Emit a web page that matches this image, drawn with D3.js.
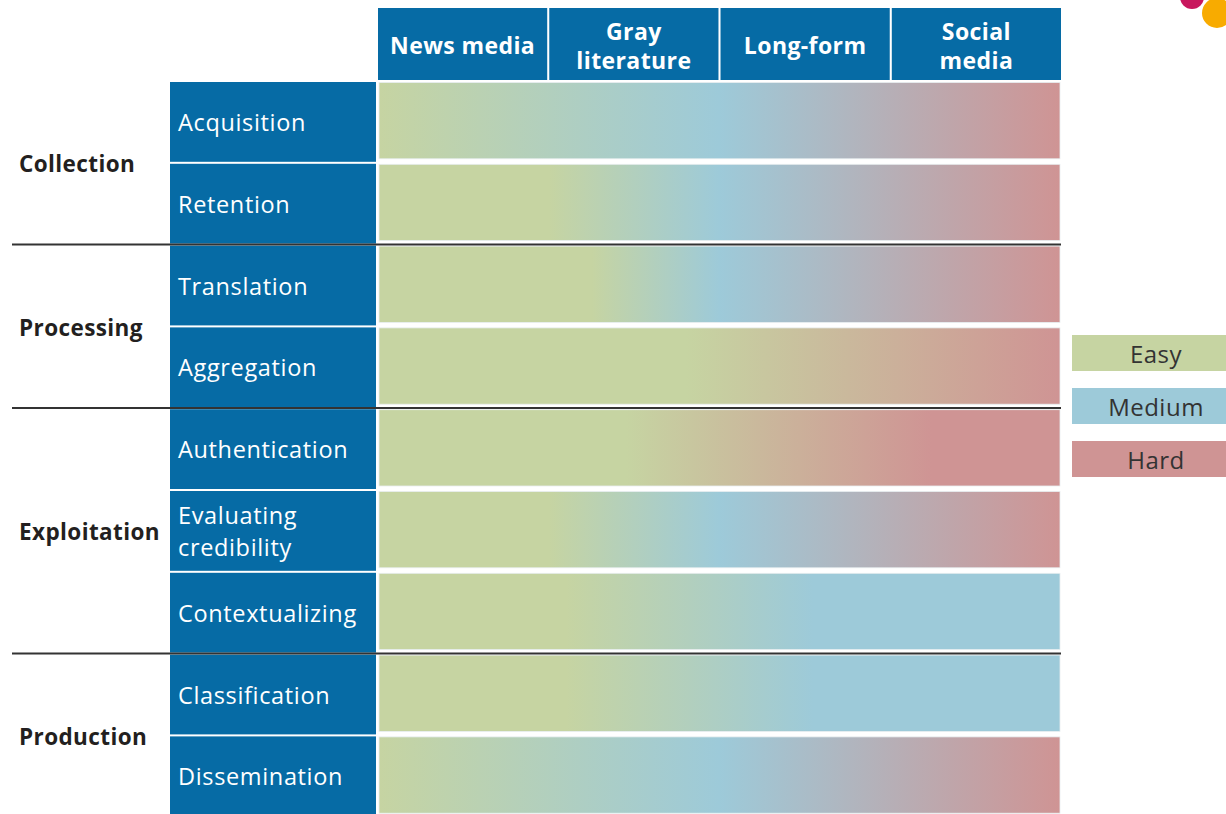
<!DOCTYPE html>
<html>
<head>
<meta charset="utf-8">
<script src="https://cdn.jsdelivr.net/npm/d3@7"></script>
<style>
  html, body { margin: 0; padding: 0; background: #fff; overflow: hidden; }
  svg { display: block; }
  text { font-family: "Open Sans", "Noto Sans", sans-serif; }
</style>
</head>
<body>
<svg id="chart" width="1226" height="814"></svg>
<script>
// ---- data ----
const columns = ["News media", "Gray literature", "Long-form", "Social media"];
const columnLines = [["News media"], ["Gray", "literature"], ["Long-form"], ["Social", "media"]];
const groups = ["Collection", "Processing", "Exploitation", "Production"];
const groupSizes = [2, 2, 3, 2];
const tasks = ["Acquisition", "Retention", "Translation", "Aggregation", "Authentication",
               "Evaluating credibility", "Contextualizing", "Classification", "Dissemination"];
const taskLines = [["Acquisition"], ["Retention"], ["Translation"], ["Aggregation"], ["Authentication"],
                   ["Evaluating", "credibility"], ["Contextualizing"], ["Classification"], ["Dissemination"]];
const levels = ["Easy", "Medium", "Hard"];
const levelColors = ["#c6d4a2", "#9dcad9", "#cf9494"];
// difficulty along the source axis: [position in column units (0..4), level]
const difficultyStops = [
  [[0, "Easy"], [2, "Medium"], [4, "Hard"]],
  [[0, "Easy"], [1, "Easy"], [2, "Medium"], [4, "Hard"]],
  [[0, "Easy"], [1.25, "Easy"], [2, "Medium"], [4, "Hard"]],
  [[0, "Easy"], [1.8, "Easy"], [4, "Hard"]],
  [[0, "Easy"], [1.45, "Easy"], [3.25, "Hard"], [4, "Hard"]],
  [[0, "Easy"], [1, "Easy"], [2, "Medium"], [4, "Hard"]],
  [[0, "Easy"], [1.1, "Easy"], [2.55, "Medium"], [4, "Medium"]],
  [[0, "Easy"], [1.1, "Easy"], [2.55, "Medium"], [4, "Medium"]],
  [[0, "Easy"], [2, "Medium"], [4, "Hard"]]
];

// ---- layout ----
const svg = d3.select("#chart");
const blue = "#066ba5";
const gridLeft = 378, gridRight = 1061;
const rowTop = 82, rowStep = 81.8;

const xCol = d3.scaleBand().domain(columns).range([gridLeft, gridRight]).paddingInner(0.012);
const xUnit = d3.scaleLinear().domain([0, columns.length]).range([gridLeft + 1, gridRight - 1]);
const y = d3.scaleBand().domain(tasks).range([rowTop, rowTop + rowStep * tasks.length]);
const color = d3.scaleOrdinal().domain(levels).range(levelColors);

// multi-line text in a single <text> element
function multiline(sel, x, cy, lines, gap) {
  const t = sel.append("text").attr("x", x).attr("y", cy).attr("dominant-baseline", "central");
  lines.forEach((l, j) => {
    t.append("tspan").attr("x", x)
      .attr("y", cy + (j - (lines.length - 1) / 2) * gap)
      .attr("dominant-baseline", "central").text(l);
  });
  return t;
}

// decorative circles
svg.append("circle").attr("cx", 1192).attr("cy", -3).attr("r", 12).attr("fill", "#c8175d");
svg.append("circle").attr("cx", 1217).attr("cy", 13).attr("r", 15).attr("fill", "#f8ab00");

// header
const head = svg.append("g");
columns.forEach((c, i) => {
  head.append("rect").attr("x", xCol(c)).attr("y", 8).attr("width", xCol.bandwidth()).attr("height", 72).attr("fill", blue);
  const cx = xCol(c) + xCol.bandwidth() / 2;
  multiline(head, cx, 45, columnLines[i], 29)
    .attr("text-anchor", "middle").attr("fill", "#fff").attr("font-weight", "bold")
    .attr("font-size", 23).attr("letter-spacing", 0.4);
});

// gradients
const defs = svg.append("defs");
tasks.forEach((t, i) => {
  const g = defs.append("linearGradient").attr("id", "grad" + i)
    .attr("gradientUnits", "userSpaceOnUse")
    .attr("x1", xUnit(0)).attr("x2", xUnit(columns.length)).attr("y1", 0).attr("y2", 0);
  difficultyStops[i].forEach(([p, lv]) => {
    g.append("stop").attr("offset", p / columns.length).attr("stop-color", color(lv));
  });
});

// rows
const rows = svg.append("g");
tasks.forEach((t, i) => {
  rows.append("rect").attr("x", 170).attr("y", y(t)).attr("width", 206).attr("height", y.bandwidth() - 2).attr("fill", blue);
  rows.append("rect").attr("x", xUnit(0)).attr("y", y(t) + 0.5).attr("width", xUnit(columns.length) - xUnit(0))
    .attr("height", y.bandwidth() - 5.5).attr("fill", `url(#grad${i})`)
    .attr("stroke", "#e8eef0").attr("stroke-width", 0.8);
  const cy = y(t) + y.bandwidth() / 2 - 1;
  multiline(rows, 178, cy, taskLines[i], 32)
    .attr("fill", "#fff").attr("font-size", 23.5).attr("letter-spacing", 0.65);
});

// groups and separators
let start = 0;
groups.forEach((g, i) => {
  const n = groupSizes[i];
  const top = y(tasks[start]);
  const bottom = y(tasks[start + n - 1]) + y.bandwidth();
  svg.append("text").attr("x", 19).attr("y", (top + bottom) / 2)
    .attr("dominant-baseline", "central").attr("fill", "#231f20")
    .attr("font-weight", "bold").attr("font-size", 22.5).attr("letter-spacing", 0.4).text(g);
  if (i > 0) {
    svg.append("line").attr("x1", 12).attr("x2", gridRight).attr("y1", top - 1.2).attr("y2", top - 1.2)
      .attr("stroke", "#333").attr("stroke-width", 2);
  }
  start += n;
});

// legend
const legY = d3.scaleBand().domain(levels).range([335, 335 + 53 * 3]);
levels.forEach(lv => {
  svg.append("rect").attr("x", 1072).attr("y", legY(lv)).attr("width", 160).attr("height", 36).attr("fill", color(lv));
  svg.append("text").attr("x", 1156).attr("y", legY(lv) + 18).attr("text-anchor", "middle")
    .attr("dominant-baseline", "central").attr("fill", "#333").attr("font-size", 24)
    .attr("letter-spacing", 0.5).text(lv);
});
</script>
</body>
</html>
